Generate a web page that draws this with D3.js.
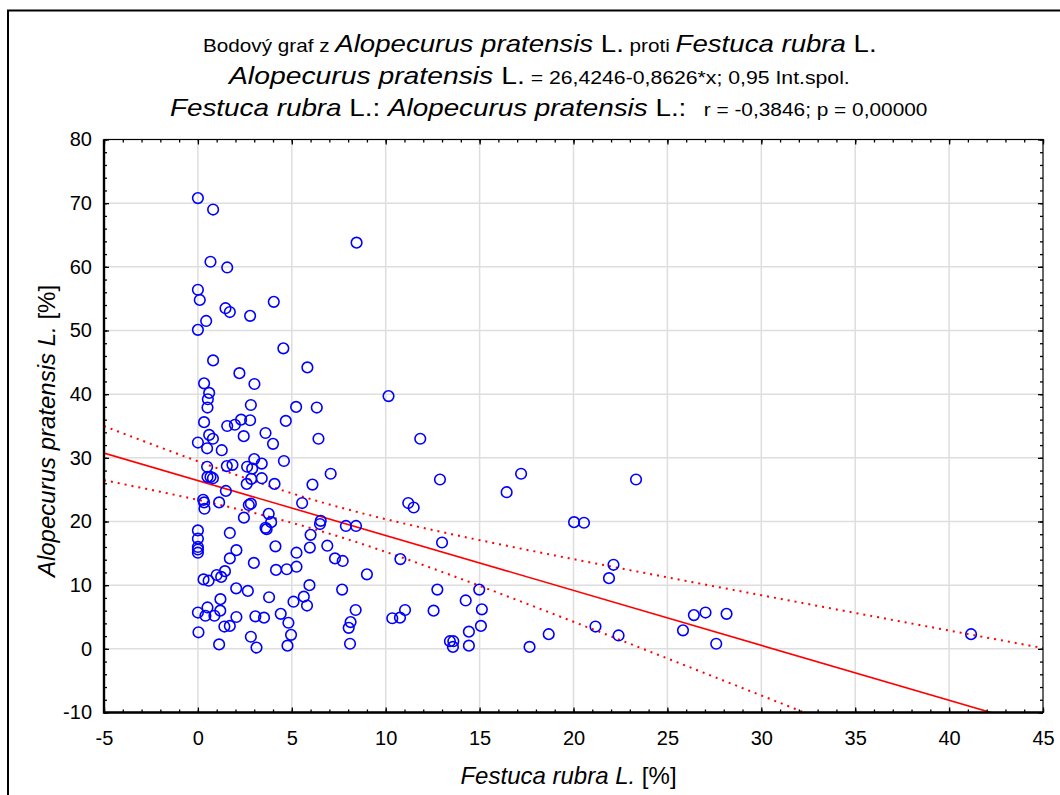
<!DOCTYPE html>
<html>
<head>
<meta charset="utf-8">
<script src="https://cdn.jsdelivr.net/npm/d3@7"></script>
<style>
    body { margin: 0; background: #fff; }
    svg { display: block; font-family: "Liberation Sans", Arial, sans-serif; }
    .title text { white-space: pre; }
</style>
</head>
<body>
<div id="chart"></div>
<script>
// Festuca rubra L. [%] (x) vs Alopecurus pratensis L. [%] (y)
const festuca = [
    0, 0.81, 8.45, 0.67, 1.56, 0, 0.1, 1.47, 1.7, 2.78, 4.04, 0.44, 0,
    4.55, 5.83, 0.81, 2.21, 0.33, 3.01, 0.6, 0.53, 0.51, 2.82, 5.23, 6.33,
    0.33, 1.56, 1.97, 2.3, 2.78, 4.68, 0.6, 0.8, 2.44, 3.6, 6.42, 4.0, 0,
    0.49, 1.27, 3.0, 3.4, 4.58, 0.49, 1.54, 1.84, 2.62, 2.89, 7.07, 0.51,
    0.8, 0.67, 2.84, 3.4, 2.6, 4.08, 6.1, 1.49, 0.28, 0.33, 0.35, 1.13,
    5.55, 2.71, 2.82, 2.45, 3.77, 3.9, 3.6, 3.66, 6.54, 6.5, 7.88, 8.42,
    0, 0, 1.7, 6.0, 0, 0, 0, 2.05, 4.13, 5.25, 5.96, 6.89, 1.7, 2.98, 7.3,
    7.71, 5.25, 4.16, 4.73, 1.44, 1.0, 1.24, 0.3, 0.57, 5.94, 7.68, 2.04,
    2.66, 1.2, 3.79, 5.64, 5.09, 5.81, 0, 0.51, 0.4, 0.88, 1.19, 2.05,
    3.06, 3.52, 4.41, 4.82, 1.41, 1.7, 8.13, 8.03, 8.4, 0.03, 2.82, 4.96,
    1.13, 3.12, 4.77, 8.1,
    10.15, 11.84, 12.89, 17.21, 16.44, 11.2, 11.49, 20.03, 20.56, 13.0,
    10.78, 9.0, 12.75, 14.98, 14.26, 11.03, 12.55, 15.12, 10.35, 10.76,
    15.07, 14.43, 18.68, 21.17, 13.42, 13.6, 13.58, 14.43, 17.66,
    23.33, 22.13, 21.89, 22.4, 26.41, 27.03, 28.15, 25.83, 27.6, 41.17
];
const alopecurus = [
    70.8, 69.0, 63.8, 60.8, 59.9, 56.4, 54.8, 53.5, 52.9, 52.3, 54.5, 51.5, 50.1,
    47.2, 44.2, 45.3, 43.3, 41.7, 41.6, 40.2, 39.2, 37.9, 38.3, 38.0, 37.9,
    35.6, 35.0, 35.2, 36.0, 35.9, 35.8, 33.6, 33.0, 33.4, 33.9, 33.0, 32.2, 32.4,
    31.5, 31.2, 29.8, 29.1, 29.5, 28.6, 28.7, 28.9, 28.6, 28.3, 27.5, 27.0,
    26.8, 27.0, 26.7, 26.8, 25.9, 25.9, 25.8, 24.8, 23.4, 23.0, 22.0, 23.0,
    22.9, 22.6, 22.8, 20.6, 21.2, 19.9, 19.0, 18.8, 20.1, 19.6, 19.3, 19.3,
    18.6, 17.3, 18.2, 17.9, 16.0, 15.6, 15.1, 15.5, 16.1, 15.1, 15.9, 16.2, 14.2, 13.5, 14.2,
    13.8, 12.9, 12.4, 12.5, 12.2, 11.6, 11.3, 10.9, 10.7, 10.0, 9.3, 9.5,
    9.1, 7.8, 8.1, 8.2, 7.4, 6.8, 5.7, 6.5, 5.2, 5.2, 6.0, 5.0,
    5.1, 4.9, 5.5, 4.1, 3.5, 3.6, 4.2, 3.3, 6.1, 2.6, 1.9, 2.2,
    0.7, 0.2, 0.5, 0.8,
    39.7, 33.0, 26.6, 27.5, 24.6, 22.9, 22.2, 19.9, 19.8, 16.7,
    14.1, 11.7, 9.3, 9.3, 7.6, 6.1, 6.0, 6.2, 4.8, 4.9,
    3.6, 2.7, 2.3, 3.5, 1.2, 1.2, 0.3, 0.5, 0.3,
    26.6, 13.2, 11.1, 2.1, 5.3, 5.7, 5.5, 2.9, 0.8, 2.3
];

// regression from the chart heading
const intercept = 26.4246;
const slope = -0.8626;
const tCrit = 1.974; // 0.95 two-sided, n-2 df

const xDomain = [-5, 45];
const yDomain = [-10, 80];
const xMajor = d3.range(-5, 46, 5);
const xMinor = d3.range(-5, 46, 1);
const yMajor = d3.range(-10, 81, 10);
const yMinor = d3.range(-10, 81, 2);

const W = 1060, H = 795;
const margin = { top: 139.5, right: 17, bottom: 82.5, left: 104 };
const pw = W - margin.left - margin.right;
const ph = H - margin.top - margin.bottom;

const FONT = '"Liberation Sans", Arial, sans-serif';

const svg = d3.select('#chart').append('svg')
    .attr('width', W).attr('height', H);

// outer frame (only top and left edges are inside the picture)
svg.append('rect')
    .attr('x', 8).attr('y', 10.5)
    .attr('width', 1200).attr('height', 1000)
    .attr('fill', 'none').attr('stroke', '#000').attr('stroke-width', 2);

const x = d3.scaleLinear().domain(xDomain).range([0, pw]);
const y = d3.scaleLinear().domain(yDomain).range([ph, 0]);

const g = svg.append('g')
    .attr('transform', 'translate(' + margin.left + ',' + margin.top + ')');

g.append('clipPath').attr('id', 'plotclip')
    .append('rect').attr('width', pw).attr('height', ph);

// grid
g.append('g').selectAll('line')
    .data(xMajor.filter(v => v > xDomain[0] && v < xDomain[1]))
    .join('line')
        .attr('x1', d => x(d)).attr('x2', d => x(d))
        .attr('y1', 0).attr('y2', ph)
        .attr('stroke', '#dedede').attr('stroke-width', 1.5);
g.append('g').selectAll('line')
    .data(yMajor.filter(v => v > yDomain[0] && v < yDomain[1]))
    .join('line')
        .attr('y1', d => y(d)).attr('y2', d => y(d))
        .attr('x1', 0).attr('x2', pw)
        .attr('stroke', '#dedede').attr('stroke-width', 1.5);

// regression line + 0.95 confidence band, computed from the points
const n = festuca.length;
const mx = d3.mean(festuca);
const sxx = d3.sum(festuca, v => (v - mx) * (v - mx));
const sse = d3.sum(festuca, (v, i) => {
    const r = alopecurus[i] - (intercept + slope * v);
    return r * r;
});
const se = Math.sqrt(sse / (n - 2));
const fit = v => intercept + slope * v;
const half = v => tCrit * se * Math.sqrt(1 / n + (v - mx) * (v - mx) / sxx);
const grid = d3.range(xDomain[0], xDomain[1] + 0.01, 0.25);

const lines = g.append('g').attr('clip-path', 'url(#plotclip)');
lines.append('path')
    .attr('d', d3.line().x(v => x(v)).y(v => y(fit(v)))(xDomain))
    .attr('fill', 'none').attr('stroke', '#ff0000').attr('stroke-width', 1.6);
[1, -1].forEach(sign => {
    lines.append('path')
        .attr('d', d3.line().x(v => x(v)).y(v => y(fit(v) + sign * half(v)))(grid))
        .attr('fill', 'none').attr('stroke', '#ff0000')
        .attr('stroke-width', 2).attr('stroke-dasharray', '2,5');
});

// points
g.append('g').selectAll('circle')
    .data(festuca.map((v, i) => [v, alopecurus[i]]))
    .join('circle')
        .attr('cx', d => x(d[0]))
        .attr('cy', d => y(d[1]))
        .attr('r', 5.3)
        .attr('fill', 'none')
        .attr('stroke', '#0000ff')
        .attr('stroke-width', 1.6);

// axes: ticks point inwards on all four sides
function styleAxis(sel) {
    sel.selectAll('path.domain').remove();
    sel.selectAll('line').attr('stroke', '#000').attr('stroke-width', 1.3);
    sel.selectAll('text')
        .attr('font-family', FONT).attr('font-size', 20).attr('fill', '#000');
}
const plain = d => String(d); // hyphen minus, as in the picture

g.append('g').attr('transform', 'translate(0,' + ph + ')')
    .call(d3.axisBottom(x).tickValues(xMinor).tickSize(-3).tickFormat(''))
    .call(styleAxis);
g.append('g').attr('transform', 'translate(0,' + ph + ')')
    .call(d3.axisBottom(x).tickValues(xMajor).tickSize(-5).tickPadding(18).tickFormat(plain))
    .call(styleAxis);
g.append('g')
    .call(d3.axisTop(x).tickValues(xMinor).tickSize(-3).tickFormat(''))
    .call(styleAxis);
g.append('g')
    .call(d3.axisTop(x).tickValues(xMajor).tickSize(-5).tickFormat(''))
    .call(styleAxis);

g.append('g')
    .call(d3.axisLeft(y).tickValues(yMinor).tickSize(-3).tickFormat(''))
    .call(styleAxis);
g.append('g')
    .call(d3.axisLeft(y).tickValues(yMajor).tickSize(-5).tickPadding(12).tickFormat(plain))
    .call(styleAxis);
g.append('g').attr('transform', 'translate(' + pw + ',0)')
    .call(d3.axisRight(y).tickValues(yMinor).tickSize(-3).tickFormat(''))
    .call(styleAxis);
g.append('g').attr('transform', 'translate(' + pw + ',0)')
    .call(d3.axisRight(y).tickValues(yMajor).tickSize(-5).tickFormat(''))
    .call(styleAxis);

// plot frame: heavy left/bottom, light top/right
g.append('rect').attr('width', pw).attr('height', ph)
    .attr('fill', 'none').attr('stroke', '#000').attr('stroke-width', 1.2);
g.append('path')
    .attr('d', 'M0,0V' + ph + 'H' + pw)
    .attr('fill', 'none').attr('stroke', '#000').attr('stroke-width', 2.4);

// axis titles
const xTitle = svg.append('text')
    .attr('x', margin.left + pw / 2 - 5).attr('y', 784)
    .attr('text-anchor', 'middle')
    .attr('font-family', FONT).attr('font-size', 24);
xTitle.append('tspan').attr('font-style', 'italic').text('Festuca rubra L.');
xTitle.append('tspan').text(' [%]');

const yTitle = svg.append('text')
    .attr('transform', 'translate(55,' + (margin.top + ph / 2 + 5) + ') rotate(-90)')
    .attr('text-anchor', 'middle')
    .attr('font-family', FONT).attr('font-size', 24);
yTitle.append('tspan').attr('font-style', 'italic').text('Alopecurus pratensis L.');
yTitle.append('tspan').text(' [%]');

// heading: three lines of mixed sizes, condensed to the widths in the picture
const heading = [
    { base: 52, left: 203, right: 877, parts: [
        ['Bodový graf z ', 18, 'normal'],
        ['Alopecurus pratensis', 24, 'italic'],
        [' L.', 24, 'normal'],
        [' proti ', 18, 'normal'],
        ['Festuca rubra', 24, 'italic'],
        [' L.', 24, 'normal']
    ]},
    { base: 84, left: 229, right: 850, parts: [
        ['Alopecurus pratensis', 24, 'italic'],
        [' L.', 24, 'normal'],
        [' = 26,4246-0,8626*x; 0,95 Int.spol.', 18, 'normal']
    ]},
    { base: 116, left: 170, right: 928, parts: [
        ['Festuca rubra', 24, 'italic'],
        [' L.: ', 24, 'normal'],
        ['Alopecurus pratensis', 24, 'italic'],
        [' L.:', 24, 'normal'],
        ['   r = -0,3846; p = 0,00000', 18, 'normal']
    ]}
];

const titleG = svg.append('g').attr('class', 'title');
heading.forEach(line => {
    const t = titleG.append('text').attr('font-family', FONT).attr('fill', '#000');
    line.parts.forEach(p => {
        t.append('tspan')
            .attr('font-size', p[1])
            .attr('font-style', p[2])
            .text(p[0]);
    });
    const w = t.node().getComputedTextLength();
    const k = (line.right - line.left) / w;
    t.attr('transform', 'translate(' + line.left + ',' + line.base + ') scale(' + k + ',1)');
});
</script>
</body>
</html>
